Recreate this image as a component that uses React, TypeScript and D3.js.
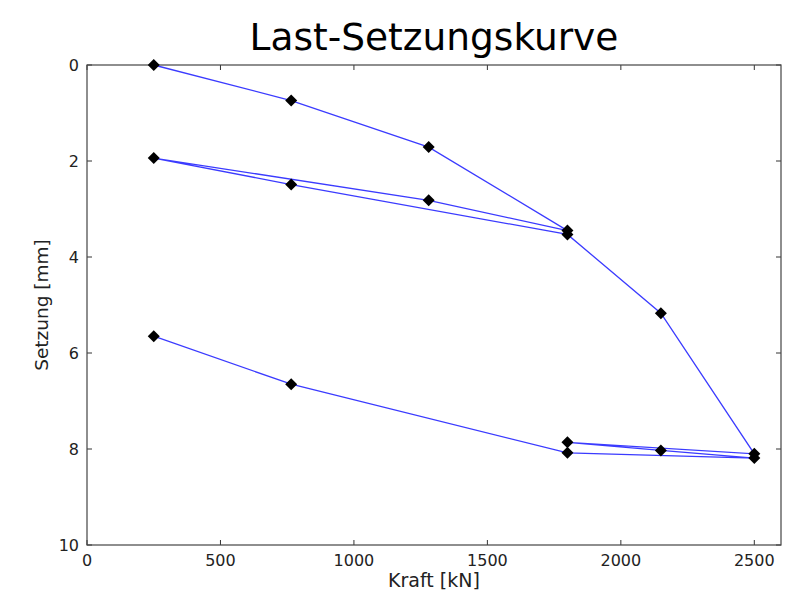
import React, { useRef, useEffect } from 'react';
import * as d3 from 'd3';

// load path of the test, in the order it was measured
const loads = [250, 765, 1280, 1800, 1280, 250, 765, 1800, 2150, 2500, 1800, 2150, 2500, 1800, 765, 250];
const settlements = [0, 0.74, 1.71, 3.45, 2.82, 1.94, 2.49, 3.53, 5.17, 8.1, 7.86, 8.03, 8.19, 8.08, 6.65, 5.65];
const xTicks = [0, 500, 1000, 1500, 2000, 2500];
const yTicks = [0, 2, 4, 6, 8, 10];

const W = 789;
const H = 592;

const App = () => {
  const svgRef = useRef<SVGSVGElement>(null);

  useEffect(() => {
    const svg = d3.select(svgRef.current);
    svg.selectAll('*').remove();

    const margin = { top: 65, right: 8, bottom: 47, left: 87 };
    const width = W - margin.left - margin.right;
    const height = H - margin.top - margin.bottom;
    const font = 'DejaVu Sans, sans-serif';

    const x = d3.scaleLinear().domain([0, 2600]).range([0, width]);
    const y = d3.scaleLinear().domain([0, 10]).range([0, height]);

    const g = svg.append('g').attr('transform', `translate(${margin.left},${margin.top})`);

    // ticks pointing inwards on all four sides (classic matplotlib look)
    const tickLen = 5;
    const tickColor = '#333';
    xTicks.forEach(t => {
      g.append('line').attr('x1', x(t)).attr('x2', x(t)).attr('y1', height).attr('y2', height - tickLen)
        .attr('stroke', tickColor);
      g.append('line').attr('x1', x(t)).attr('x2', x(t)).attr('y1', 0).attr('y2', tickLen)
        .attr('stroke', tickColor);
      g.append('text').attr('x', x(t)).attr('y', height + 21)
        .attr('text-anchor', 'middle').attr('font-family', font).attr('font-size', 16).attr('fill', '#222')
        .text(t);
    });
    yTicks.forEach(t => {
      g.append('line').attr('x1', 0).attr('x2', tickLen).attr('y1', y(t)).attr('y2', y(t))
        .attr('stroke', tickColor);
      g.append('line').attr('x1', width).attr('x2', width - tickLen).attr('y1', y(t)).attr('y2', y(t))
        .attr('stroke', tickColor);
      g.append('text').attr('x', -8).attr('y', y(t)).attr('dy', '0.35em')
        .attr('text-anchor', 'end').attr('font-family', font).attr('font-size', 16).attr('fill', '#222')
        .text(t);
    });

    // frame
    g.append('rect').attr('x', 0).attr('y', 0).attr('width', width).attr('height', height)
      .attr('fill', 'none').attr('stroke', '#444').attr('stroke-width', 1.2);

    const pts = loads.map((l, i) => [l, settlements[i]] as [number, number]);

    const line = d3.line<[number, number]>().x(d => x(d[0])).y(d => y(d[1]));
    g.append('path').datum(pts).attr('d', line)
      .attr('fill', 'none').attr('stroke', '#3b3bff').attr('stroke-width', 1.3);

    const diamond = d3.symbol().type(d3.symbolSquare).size(72);
    g.selectAll('path.marker').data(pts).enter().append('path')
      .attr('class', 'marker')
      .attr('d', diamond)
      .attr('transform', d => `translate(${x(d[0])},${y(d[1])}) rotate(45)`)
      .attr('fill', '#000');

    // titles
    svg.append('text').attr('x', margin.left + width / 2).attr('y', 50)
      .attr('text-anchor', 'middle').attr('font-family', font).attr('font-size', 37.5).attr('fill', '#000')
      .text('Last-Setzungskurve');
    svg.append('text').attr('x', margin.left + width / 2).attr('y', 587)
      .attr('text-anchor', 'middle').attr('font-family', font).attr('font-size', 19).attr('fill', '#222')
      .text('Kraft [kN]');
    svg.append('text').attr('transform', `translate(48,${margin.top + height / 2}) rotate(-90)`)
      .attr('text-anchor', 'middle').attr('font-family', font).attr('font-size', 18.5).attr('fill', '#222')
      .text('Setzung [mm]');
  }, []);

  return (
    <svg ref={svgRef} width={W} height={H}
      style={{ position: 'absolute', left: 0, top: 0, background: '#fff' }} />
  );
};

export default App;
